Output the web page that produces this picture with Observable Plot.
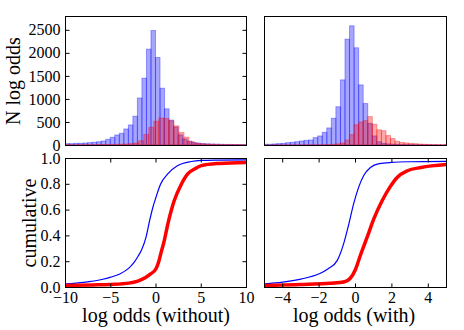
<!DOCTYPE html>
<html><head><meta charset="utf-8">
<script src="https://cdn.jsdelivr.net/npm/d3@7"></script>
<script src="https://cdn.jsdelivr.net/npm/@observablehq/plot@0.6"></script>
<style>
html,body{margin:0;padding:0;background:#fff;}
#root{position:relative;width:464px;height:330px;overflow:hidden;background:#fff;font-family:"Liberation Serif", serif;}
</style></head><body><div id="root"></div>
<script>
// ---- data ----
const xTicksLeft = [-10, -5, 0, 5, 10];
const xTicksRight = [-4, -2, 0, 2, 4];
const yTicksHist = [0, 500, 1000, 1500, 2000, 2500];
const yTicksCum = [0, 0.2, 0.4, 0.6, 0.8, 1.0];
const histDomain = [0, 2800];
const leftDomain = [-10, 10];
const rightDomain = [-5, 5];

const leftBlueStart = -10, leftBlueWidth = 0.5;
const leftBlueCounts = [29,29,36,36,43,51,58,72,87,123,167,217,254,348,435,625,1020,1450,2080,2485,
  1900,1232,785,540,390,220,130,85,55,40,30,25,20,18,15,13,12,10,10,9];
const leftRedStart = -10.18, leftRedWidth = 0.555;
const leftRedCounts = [6,6,7,7,8,8,9,10,11,12,14,17,22,30,45,94,230,384,515,585,
  575,525,415,270,170,75,40,28,20,16,13,11,10,9,8,7,6];
const rightStart = -5.05, rightWidth = 0.25;
const rightBlueCounts = [15,15,22,30,36,50,58,72,87,100,109,160,196,276,370,580,830,1413,2297,2587,
  2110,1304,900,470,196,72,35,25,18,15,12,10,8,7,6,5,5,4,4,3,3];
const rightRedCounts = [2,2,2,3,3,3,3,4,4,4,5,5,6,8,10,15,25,45,109,225,
  440,500,530,616,450,330,310,205,140,80,55,43,35,28,20,15,12,10,8,7,6];

const cumLeftBlueX = [-10,-8,-6,-5,-4,-3,-2.4,-2,-1.6,-1.1,-0.7,-0.35,0,0.5,1.3,2.4,3.9,5,7,10];
const cumLeftBlueY = [0.028,0.04,0.062,0.08,0.105,0.15,0.196,0.24,0.29,0.39,0.52,0.62,0.70,0.80,0.88,0.946,0.977,0.985,0.988,0.99];
const cumLeftRedX = [-10,-7,-5,-3,-2,-1.2,-0.6,0,0.3,0.56,0.9,1.3,2.0,2.8,3.5,4.3,5,7,10];
const cumLeftRedY = [0.016,0.02,0.024,0.034,0.05,0.075,0.105,0.145,0.2,0.27,0.36,0.49,0.67,0.80,0.88,0.92,0.945,0.962,0.97];
const cumRightBlueX = [-5,-4,-3,-2,-1.5,-1.0,-0.65,-0.37,-0.1,0.18,0.46,0.82,1.3,2,3,5];
const cumRightBlueY = [0.028,0.041,0.065,0.106,0.145,0.21,0.34,0.49,0.65,0.78,0.87,0.93,0.96,0.97,0.975,0.978];
const cumRightRedX = [-5,-3,-1.4,-0.6,-0.3,0,0.27,0.64,1.0,1.47,1.9,2.3,2.85,3.6,5];
const cumRightRedY = [0.016,0.023,0.033,0.045,0.07,0.14,0.25,0.39,0.53,0.674,0.78,0.855,0.905,0.93,0.953];

const yLabelTop = "N log odds";
const yLabelBottom = "cumulative";
const xLabelLeft = "log odds (without)";
const xLabelRight = "log odds (with)";

// ---- helpers ----
const FONT = "Liberation Serif, serif";
const bins = (start, width, counts) => counts.map((n, i) => ({x1: start + i * width, x2: start + (i + 1) * width, n}));
const pts = (xs, ys) => xs.map((x, i) => ({x, y: ys[i]}));
const tickShape = {draw(ctx, l) { ctx.moveTo(0, 0); ctx.lineTo(0, -l); }};
function inTicks(vals, axis, side) {
  const rot = {left: 90, right: -90, bottom: 0, top: 180}[side];
  const ch = axis === "y" ? {y: d => d} : {x: d => d};
  return Plot.vector(vals, {...ch, frameAnchor: side, rotate: rot, length: 4, anchor: "start",
    shape: tickShape, stroke: "black", strokeWidth: 1, fill: "none", strokeLinecap: "butt"});
}
const panelStyle = (left, top) => ({position: "absolute", left: left + "px", top: top + "px", overflow: "visible",
  background: "transparent", maxWidth: "none", fontFamily: FONT, fontSize: "16px", color: "black"});
const hist = (data, color) => Plot.rectY(data, {x1: "x1", x2: "x2", y: "n", fill: color, fillOpacity: 0.35,
  stroke: color, strokeOpacity: 0.35, strokeWidth: 1, clip: true});
const cum = (data, color, w) => Plot.line(data, {x: "x", y: "y", stroke: color, strokeWidth: w, curve: "monotone-x", clip: true});
const root = document.getElementById("root");

// ---- top-left ----
root.appendChild(Plot.plot({
  width: 250, height: 152, marginLeft: 65, marginRight: 4, marginTop: 16, marginBottom: 7,
  style: panelStyle(0, 0),
  x: {domain: leftDomain, axis: null}, y: {domain: histDomain},
  marks: [
    hist(bins(leftBlueStart, leftBlueWidth, leftBlueCounts), "blue"),
    hist(bins(leftRedStart, leftRedWidth, leftRedCounts), "red"),
    Plot.frame({stroke: "black", strokeWidth: 1}),
    inTicks(yTicksHist, "y", "left"), inTicks(yTicksHist, "y", "right"),
    Plot.axisY(yTicksHist, {anchor: "left", tickSize: 0, tickPadding: 5, label: null, tickFormat: d3.format("d")})
  ]
}));

// ---- top-right ----
root.appendChild(Plot.plot({
  width: 205, height: 152, marginLeft: 9, marginRight: 14, marginTop: 16, marginBottom: 7,
  style: panelStyle(255, 0),
  x: {domain: rightDomain, axis: null}, y: {domain: histDomain, axis: null},
  marks: [
    hist(bins(rightStart, rightWidth, rightBlueCounts), "blue"),
    hist(bins(rightStart, rightWidth, rightRedCounts), "red"),
    Plot.frame({stroke: "black", strokeWidth: 1})
  ]
}));

// ---- bottom-left ----
root.appendChild(Plot.plot({
  width: 250, height: 180, marginLeft: 65, marginRight: 4, marginTop: 8, marginBottom: 43,
  style: panelStyle(0, 150),
  x: {domain: leftDomain}, y: {domain: [0, 1]},
  marks: [
    cum(pts(cumLeftBlueX, cumLeftBlueY), "blue", 1.2),
    cum(pts(cumLeftRedX, cumLeftRedY), "red", 3.5),
    Plot.frame({stroke: "black", strokeWidth: 1}),
    inTicks(yTicksCum, "y", "left"), inTicks(yTicksCum, "y", "right"),
    inTicks(xTicksLeft, "x", "bottom"), inTicks(xTicksLeft, "x", "top"),
    Plot.axisY(yTicksCum, {anchor: "left", tickSize: 0, tickPadding: 5, label: null, tickFormat: d3.format(".1f")}),
    Plot.axisX(xTicksLeft, {anchor: "bottom", tickSize: 0, tickPadding: 4, label: null, tickFormat: d3.format("d")})
  ]
}));

// ---- bottom-right ----
root.appendChild(Plot.plot({
  width: 205, height: 180, marginLeft: 9, marginRight: 14, marginTop: 8, marginBottom: 43,
  style: panelStyle(255, 150),
  x: {domain: rightDomain}, y: {domain: [0, 1], axis: null},
  marks: [
    cum(pts(cumRightBlueX, cumRightBlueY), "blue", 1.2),
    cum(pts(cumRightRedX, cumRightRedY), "red", 3.5),
    Plot.frame({stroke: "black", strokeWidth: 1}),
    inTicks(xTicksRight, "x", "bottom"), inTicks(xTicksRight, "x", "top"),
    Plot.axisX(xTicksRight, {anchor: "bottom", tickSize: 0, tickPadding: 4, label: null, tickFormat: d3.format("d")})
  ]
}));

// ---- axis titles ----
const lab = d3.select("#root").append("svg").attr("width", 464).attr("height", 330)
  .attr("font-family", FONT).attr("font-size", 20)
  .style("position", "absolute").style("left", "0px").style("top", "0px");
lab.append("text").attr("transform", "translate(20,81) rotate(-90)").attr("text-anchor", "middle").text(yLabelTop);
lab.append("text").attr("transform", "translate(36,223) rotate(-90)").attr("text-anchor", "middle").text(yLabelBottom);
lab.append("text").attr("x", 156).attr("y", 322).attr("text-anchor", "middle").text(xLabelLeft);
lab.append("text").attr("x", 354).attr("y", 322).attr("text-anchor", "middle").text(xLabelRight);
</script></body></html>
